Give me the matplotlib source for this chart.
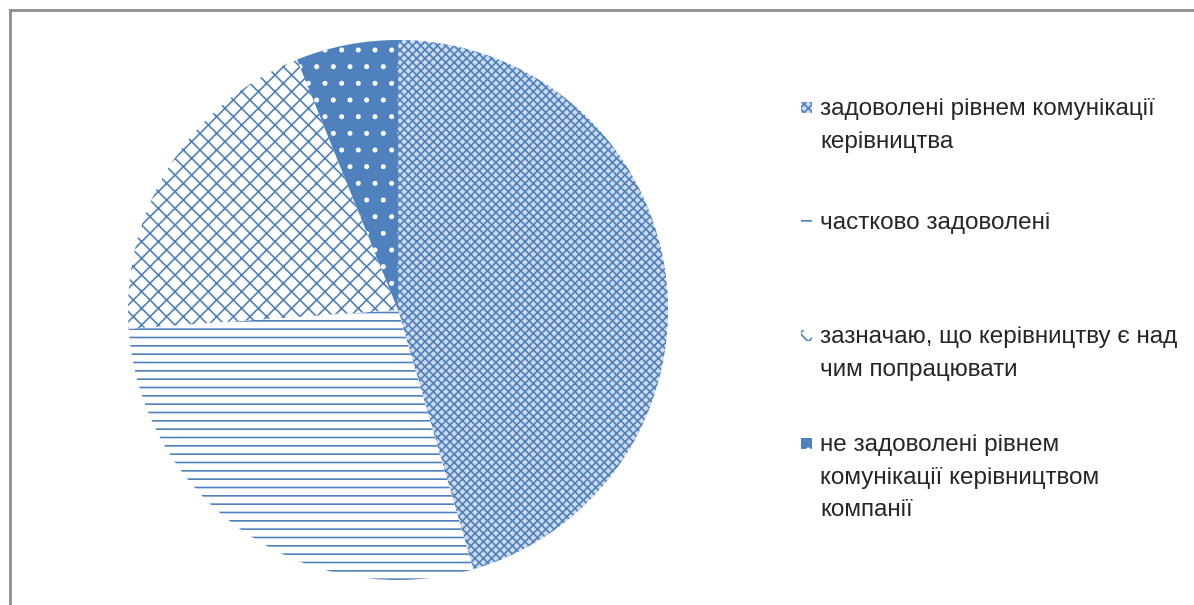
import matplotlib.pyplot as plt
from matplotlib.patches import Rectangle
from matplotlib.lines import Line2D

plt.rcParams['font.family'] = ['Liberation Sans', 'DejaVu Sans']
plt.rcParams['hatch.linewidth'] = 1.2

# Survey answers, shares in percent
labels = [
    'задоволені рівнем комунікації\nкерівництва',
    'частково задоволені',
    'зазначаю, що керівництву є над\nчим попрацювати',
    'не задоволені рівнем\nкомунікації керівництвом\nкомпанії',
]
shares = [45.5, 28.4, 20.0, 6.1]

blue = '#4f81bd'
faces = ['#cdd9ec', 'white', 'white', blue]
hatch_cols = [blue, blue, blue, 'white']
hatches = ['xxxx', '--', 'xx', '.']

fig = plt.figure(figsize=(11.94, 6.05), dpi=100)
ax = fig.add_axes([128 / 1194, 25 / 605, 540 / 1194, 540 / 605])

wedges, _ = ax.pie(shares, startangle=90, counterclock=False,
                   wedgeprops=dict(linewidth=0))
for w, fc, hc, h in zip(wedges, faces, hatch_cols, hatches):
    w.set_facecolor(fc)
    w.set_edgecolor(hc)
    w.set_hatch(h)
    w.set_linewidth(0)
ax.set_xlim(-1, 1)
ax.set_ylim(-1, 1)
ax.set_aspect('equal')

# legend entries drawn by hand, Excel-style spacing
entry_y = [107, 221, 335, 443]
for lab, fc, hc, h, y in zip(labels, faces, hatch_cols, hatches, entry_y):
    yf = 1 - y / 605
    fig.patches.append(Rectangle((801 / 1194, yf - 6 / 605), 11 / 1194, 11 / 605,
                                 transform=fig.transFigure, facecolor=fc,
                                 edgecolor=hc, hatch=h, linewidth=0))
    fig.text(820 / 1194, yf + 9 / 605, lab, fontsize=17.5, color='#262626',
             va='top', ha='left', linespacing=1.62)

# chart area frame (only top and left edges are visible)
fig.add_artist(Line2D([10 / 1194, 1], [1 - 10 / 605] * 2, color='#8c8c8c', lw=2,
                      transform=fig.transFigure))
fig.add_artist(Line2D([10 / 1194] * 2, [0, 1 - 10 / 605], color='#8c8c8c', lw=2,
                      transform=fig.transFigure))

fig.savefig('out.png', dpi=100)
